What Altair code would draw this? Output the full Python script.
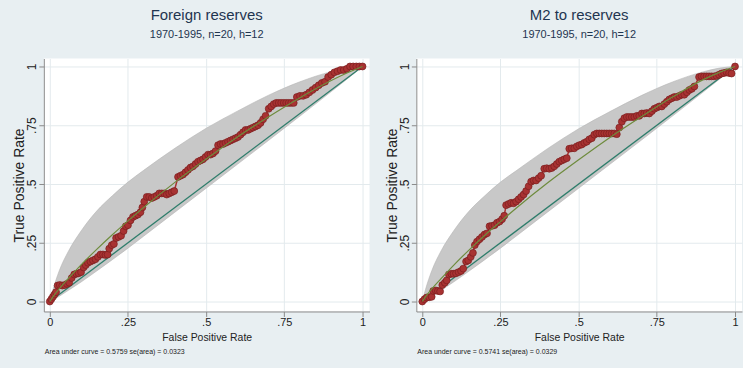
import altair as alt
import pandas as pd

# ---------------- data ----------------
TITLES = ["Foreign reserves", "M2 to reserves"]
SUBTITLE = "1970-1995, n=20, h=12"
NOTES = ["Area under curve = 0.5759  se(area) = 0.0323",
         "Area under curve = 0.5741  se(area) = 0.0329"]
TICKS = [0, 0.25, 0.5, 0.75, 1]
DIAG = [0, 1]

# empirical ROC points, left panel (Foreign reserves)
L_X = [0, 0.005, 0.01, 0.015, 0.02, 0.025, 0.032, 0.04, 0.048, 0.055, 0.062,
       0.07, 0.078, 0.085, 0.092, 0.1, 0.108, 0.115, 0.122, 0.13, 0.138, 0.146,
       0.154, 0.162, 0.17, 0.178, 0.185, 0.19, 0.198, 0.205, 0.212, 0.22, 0.228,
       0.236, 0.243, 0.25, 0.258, 0.266, 0.274, 0.282, 0.29, 0.296, 0.302, 0.31,
       0.318, 0.326, 0.334, 0.342, 0.35, 0.358, 0.366, 0.374, 0.382, 0.39, 0.398,
       0.41, 0.418, 0.426, 0.434, 0.442, 0.45, 0.458, 0.466, 0.474, 0.482, 0.49,
       0.498, 0.506, 0.514, 0.522, 0.53, 0.538, 0.546, 0.554, 0.562, 0.57, 0.578,
       0.586, 0.594, 0.602, 0.61, 0.618, 0.626, 0.634, 0.642, 0.65, 0.658, 0.666,
       0.674, 0.682, 0.69, 0.7, 0.708, 0.716, 0.724, 0.732, 0.74, 0.748, 0.756,
       0.764, 0.772, 0.78, 0.79, 0.8, 0.81, 0.82, 0.83, 0.84, 0.85, 0.86, 0.87,
       0.88, 0.89, 0.9, 0.91, 0.92, 0.93, 0.94, 0.95, 0.96, 0.97, 0.98, 0.99, 1.0]
L_Y = [0, 0.01, 0.02, 0.03, 0.04, 0.068, 0.07, 0.068, 0.07, 0.075, 0.08,
       0.1, 0.115, 0.118, 0.12, 0.125, 0.145, 0.155, 0.165, 0.17, 0.175, 0.18,
       0.19, 0.2, 0.2, 0.198, 0.2, 0.225, 0.24, 0.245, 0.27, 0.275, 0.28,
       0.3, 0.32, 0.325, 0.345, 0.36, 0.365, 0.37, 0.38, 0.4, 0.425, 0.445,
       0.445, 0.44, 0.445, 0.45, 0.46, 0.46, 0.46, 0.455, 0.46, 0.465, 0.47,
       0.53, 0.535, 0.54, 0.55, 0.56, 0.57, 0.575, 0.585, 0.595, 0.6, 0.605,
       0.615, 0.625, 0.625, 0.63, 0.64, 0.665, 0.67, 0.67, 0.675, 0.68, 0.685,
       0.69, 0.695, 0.7, 0.71, 0.72, 0.73, 0.73, 0.735, 0.74, 0.745, 0.75,
       0.76, 0.775, 0.79, 0.82, 0.83, 0.84, 0.845, 0.845, 0.845, 0.845, 0.845,
       0.845, 0.845, 0.845, 0.87, 0.875, 0.875, 0.88, 0.89, 0.9, 0.91, 0.92, 0.93,
       0.935, 0.955, 0.965, 0.975, 0.98, 0.985, 0.985, 0.99, 1.0, 1.0, 1.0, 1.0, 1.0]

# empirical ROC points, right panel (M2 to reserves)
R_X = [0, 0.007, 0.014, 0.022, 0.03, 0.035, 0.043, 0.05, 0.057, 0.064, 0.072,
       0.078, 0.085, 0.093, 0.1, 0.108, 0.116, 0.124, 0.131, 0.14, 0.147, 0.155,
       0.162, 0.168, 0.175, 0.183, 0.191, 0.199, 0.207, 0.215, 0.223, 0.231,
       0.239, 0.247, 0.255, 0.262, 0.268, 0.276, 0.284, 0.292, 0.3, 0.308, 0.316,
       0.324, 0.332, 0.34, 0.348, 0.356, 0.364, 0.372, 0.38, 0.39, 0.398, 0.406,
       0.414, 0.422, 0.43, 0.438, 0.446, 0.454, 0.462, 0.47, 0.478, 0.486, 0.494,
       0.502, 0.51, 0.518, 0.526, 0.534, 0.542, 0.55, 0.558, 0.566, 0.574, 0.582,
       0.59, 0.598, 0.606, 0.614, 0.622, 0.63, 0.638, 0.646, 0.654, 0.662, 0.67,
       0.678, 0.686, 0.694, 0.702, 0.71, 0.718, 0.726, 0.734, 0.742, 0.75, 0.758,
       0.766, 0.774, 0.782, 0.79, 0.798, 0.806, 0.814, 0.822, 0.83, 0.838, 0.846,
       0.854, 0.862, 0.87, 0.885, 0.893, 0.901, 0.909, 0.917, 0.925, 0.933, 0.941,
       0.949, 0.957, 0.965, 0.973, 0.981, 0.989, 1.0]
R_Y = [0, 0.01, 0.017, 0.018, 0.02, 0.045, 0.047, 0.045, 0.043, 0.07, 0.08,
       0.09, 0.115, 0.118, 0.118, 0.12, 0.125, 0.13, 0.14, 0.17, 0.175, 0.19,
       0.207, 0.24, 0.255, 0.265, 0.275, 0.285, 0.29, 0.32, 0.322, 0.325,
       0.335, 0.34, 0.35, 0.365, 0.41, 0.415, 0.42, 0.418, 0.425, 0.435, 0.445,
       0.455, 0.47, 0.49, 0.51, 0.515, 0.515, 0.525, 0.535, 0.565, 0.567, 0.565,
       0.568, 0.575, 0.585, 0.595, 0.6, 0.605, 0.61, 0.65, 0.652, 0.652, 0.66,
       0.665, 0.668, 0.675, 0.68, 0.69, 0.695, 0.71, 0.715, 0.715, 0.715, 0.715,
       0.715, 0.715, 0.715, 0.715, 0.712, 0.74, 0.765, 0.78, 0.785, 0.785, 0.785,
       0.785, 0.79, 0.79, 0.8, 0.8, 0.802, 0.8, 0.81, 0.82, 0.825, 0.83,
       0.83, 0.84, 0.85, 0.86, 0.865, 0.87, 0.87, 0.875, 0.88, 0.88, 0.89,
       0.9, 0.905, 0.915, 0.955, 0.958, 0.958, 0.958, 0.958, 0.958, 0.958, 0.96,
       0.965, 0.97, 0.972, 0.975, 0.972, 0.97, 1.0]

# confidence band and fitted curve (read at these false positive rates)
BAND_X = [0, 0.01, 0.03, 0.06, 0.1, 0.15, 0.2, 0.25, 0.3, 0.4, 0.5, 0.6, 0.7, 0.8, 0.9, 0.95, 1]
L_UPPER = [0, 0.05, 0.13, 0.215, 0.3, 0.385, 0.45, 0.508, 0.558, 0.652, 0.737, 0.81, 0.878, 0.935, 0.978, 0.993, 1]
L_LOWER = [0, 0.006, 0.022, 0.048, 0.083, 0.13, 0.178, 0.227, 0.278, 0.38, 0.482, 0.584, 0.686, 0.789, 0.893, 0.946, 1]
L_FIT = [0, 0.02, 0.054, 0.099, 0.156, 0.222, 0.284, 0.343, 0.4, 0.507, 0.606, 0.7, 0.786, 0.867, 0.94, 0.972, 1]
R_UPPER = [0, 0.05, 0.13, 0.215, 0.3, 0.385, 0.45, 0.508, 0.556, 0.65, 0.735, 0.808, 0.876, 0.934, 0.978, 0.993, 1]
R_LOWER = [0, 0.006, 0.022, 0.048, 0.083, 0.13, 0.178, 0.227, 0.278, 0.38, 0.482, 0.584, 0.686, 0.789, 0.893, 0.946, 1]
R_FIT = [0, 0.02, 0.053, 0.097, 0.154, 0.22, 0.282, 0.34, 0.397, 0.504, 0.603, 0.698, 0.786, 0.87, 0.945, 0.975, 1]

# ---------------- styling ----------------
BG = "#e8eff2"
TITLE_COLOR = "#1f3550"
TEXT = "#222222"
RED = "#a83232"
RED_DARK = "#7a1e1e"
FIT_COLOR = "#6e8b3d"
DIAG_COLOR = "#2e7d6b"
BAND = "#c8c8c8"
FONT = "Liberation Sans, Arial, sans-serif"

W, H = 327, 254
XDOM = [-0.0191, 1.0223]
YDOM = [-0.0424, 1.0339]

LABEL_EXPR = "replace(format(datum.value, '.2~f'), '0.', '.')"


def x_enc(field):
    return alt.X(field, type="quantitative",
                 scale=alt.Scale(domain=XDOM, nice=False, zero=False),
                 axis=alt.Axis(values=TICKS, labelExpr=LABEL_EXPR,
                               title="False Positive Rate"))


def y_enc(field):
    return alt.Y(field, type="quantitative",
                 scale=alt.Scale(domain=YDOM, nice=False, zero=False),
                 axis=alt.Axis(values=TICKS, labelExpr=LABEL_EXPR,
                               title="True Positive Rate"))


def panel(title, px, py, upper, lower, fit, note):
    band_df = pd.DataFrame({"x": BAND_X, "lo": lower, "hi": upper, "fit": fit})
    pts_df = pd.DataFrame({"x": px, "y": py})
    diag_df = pd.DataFrame({"x": DIAG, "y": DIAG})
    note_df = pd.DataFrame({"note": [note]})

    band = alt.Chart(band_df).mark_area(
        color=BAND, opacity=1, interpolate="monotone",
        stroke="#b4b4b4", strokeWidth=0.6
    ).encode(x=x_enc("x"), y=y_enc("lo"), y2="hi")

    diag = alt.Chart(diag_df).mark_line(color=DIAG_COLOR, strokeWidth=1.3).encode(
        x=x_enc("x"), y=y_enc("y"))

    pts_line = alt.Chart(pts_df).mark_line(color=RED, strokeWidth=1.5).encode(
        x=x_enc("x"), y=y_enc("y"))
    pts = alt.Chart(pts_df).mark_circle(
        size=48, color=RED, stroke=RED_DARK, strokeWidth=0.7, opacity=1
    ).encode(x=x_enc("x"), y=y_enc("y"))

    fitl = alt.Chart(band_df).mark_line(
        color=FIT_COLOR, strokeWidth=1.2, interpolate="monotone"
    ).encode(x=x_enc("x"), y=y_enc("fit"))

    note_t = alt.Chart(note_df).mark_text(
        align="left", baseline="middle", fontSize=7, font=FONT, color=TEXT
    ).encode(x=alt.value(1), y=alt.value(295), text="note:N")

    return alt.layer(band, diag, pts_line, pts, fitl, note_t).properties(
        width=W, height=H,
        title=alt.TitleParams(
            text=title, subtitle=SUBTITLE, anchor="middle", frame="group",
            fontSize=15, font=FONT, fontWeight="normal", color=TITLE_COLOR,
            subtitleFontSize=11, subtitleFont=FONT, subtitleColor=TITLE_COLOR,
            subtitlePadding=6, offset=19
        )
    )


left = panel(TITLES[0], L_X, L_Y, L_UPPER, L_LOWER, L_FIT, NOTES[0])
right = panel(TITLES[1], R_X, R_Y, R_UPPER, R_LOWER, R_FIT, NOTES[1])

chart = alt.hconcat(left, right, spacing=16).properties(
    background=BG,
    padding={"left": 13, "top": 7, "right": 1, "bottom": 12}
).configure_view(
    fill="white", stroke=None
).configure_axis(
    labelFont=FONT, titleFont=FONT, labelColor=TEXT, titleColor=TEXT,
    titleFontWeight="normal", gridColor="#e3eaed", gridWidth=1,
    domainColor="#8a8a8a", tickColor="#8a8a8a", tickSize=5, domainWidth=1
).configure_axisX(
    labelFontSize=11, titleFontSize=10.5, labelPadding=0, titlePadding=5
).configure_axisY(
    labelFontSize=12, titleFontSize=14, labelAngle=270, labelAlign="center",
    labelBaseline="bottom", labelPadding=0, titlePadding=-1
)

chart.save("out.html", embed_options={"renderer": "svg", "actions": False})
